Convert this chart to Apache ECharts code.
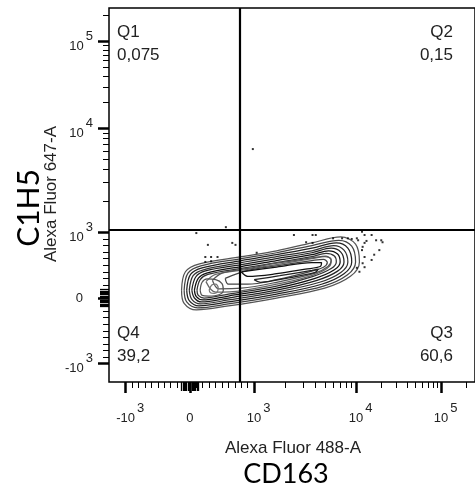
<!DOCTYPE html>
<html><head><meta charset="utf-8">
<script src="https://cdn.jsdelivr.net/npm/echarts@6/dist/echarts.min.js"></script>
<style>html,body{margin:0;padding:0;background:#fff}#c{width:475px;height:490px}</style>
</head><body><div id="c"></div>
<script>
// ---- gates & axis ticks (raw fluorescence) ----
const gateX = 770;
const gateY = 1060;
const quadNames = ['Q1', 'Q2', 'Q3', 'Q4'];
const quadPct = ['0,075', '0,15', '60,6', '39,2'];
const majorTicks = [-1000, 0, 1000, 10000, 100000];
const majorBase = ['-10', '0', '10', '10', '10'];
const majorExp = ['3', '', '3', '4', '5'];
const linearMinor = [-900, -800, -700, -600, -500, -400, -300, -200, -100, 100, 200, 300, 400, 500, 600, 700, 800, 900];
const zeroMinor = [-130, -110, -90, -70, -50, -30, -10, 10, 30, 50, 70, 90, 110, 130];
const logMinor = [2000, 3000, 4000, 5000, 6000, 7000, 8000, 9000, 20000, 30000, 40000, 50000, 60000, 70000, 80000, 90000, 200000];

// ---- contour rings (display scale units) ----
const ringO0 = [[-0.13,0.12],[-0.07,0.40],[0.15,0.52],[0.80,0.63],[1.35,0.72],[1.90,0.84],[2.35,0.93],[2.58,0.82],[2.64,0.55],[2.50,0.33],[2.10,0.15],[1.35,0.00],[0.60,-0.12],[0.10,-0.18],[-0.09,-0.08],[-0.13,0.12]];
const ringO1 = [[-0.09,0.12],[-0.03,0.38],[0.17,0.49],[0.80,0.60],[1.35,0.69],[1.90,0.80],[2.32,0.88],[2.52,0.79],[2.58,0.55],[2.45,0.35],[2.08,0.18],[1.35,0.03],[0.60,-0.09],[0.12,-0.15],[-0.05,-0.06],[-0.09,0.12]];
const ringO2 = [[-0.05,0.12],[0.01,0.36],[0.19,0.46],[0.80,0.57],[1.35,0.66],[1.90,0.76],[2.28,0.84],[2.46,0.76],[2.52,0.55],[2.40,0.37],[2.05,0.21],[1.35,0.06],[0.60,-0.06],[0.14,-0.12],[-0.01,-0.04],[-0.05,0.12]];
const ringO3 = [[-0.01,0.12],[0.05,0.34],[0.21,0.43],[0.80,0.54],[1.35,0.63],[1.90,0.72],[2.24,0.80],[2.40,0.73],[2.46,0.55],[2.35,0.39],[2.02,0.24],[1.35,0.09],[0.60,-0.03],[0.16,-0.09],[0.03,-0.02],[-0.01,0.12]];
const ringO4 = [[0.03,0.12],[0.09,0.32],[0.23,0.41],[0.80,0.51],[1.35,0.60],[1.90,0.69],[2.20,0.76],[2.35,0.70],[2.40,0.55],[2.30,0.41],[1.98,0.27],[1.35,0.12],[0.60,0.00],[0.18,-0.06],[0.07,0.00],[0.03,0.12]];
const ringO5 = [[0.07,0.12],[0.13,0.30],[0.26,0.38],[0.80,0.48],[1.35,0.57],[1.90,0.66],[2.16,0.72],[2.30,0.67],[2.34,0.55],[2.25,0.43],[1.95,0.30],[1.35,0.15],[0.60,0.03],[0.20,-0.03],[0.10,0.02],[0.07,0.12]];
const ringO6 = [[0.11,0.12],[0.16,0.28],[0.28,0.36],[0.80,0.45],[1.35,0.54],[1.90,0.63],[2.12,0.68],[2.25,0.64],[2.28,0.55],[2.20,0.45],[1.92,0.33],[1.35,0.18],[0.60,0.06],[0.22,0.00],[0.13,0.04],[0.11,0.12]];
const ringI0 = [[0.25,0.25],[0.40,0.36],[0.85,0.43],[1.35,0.51],[1.90,0.60],[2.10,0.63],[2.20,0.59],[2.18,0.49],[1.92,0.35],[1.35,0.21],[0.80,0.11],[0.40,0.09],[0.25,0.25]];
const ringI1 = [[0.35,0.27],[0.50,0.38],[0.90,0.45],[1.35,0.53],[1.90,0.61],[2.12,0.64],[2.20,0.57],[2.15,0.48],[1.95,0.38],[1.35,0.24],[0.80,0.15],[0.45,0.14],[0.35,0.27]];
const ringI2 = [[0.55,0.30],[0.90,0.42],[1.35,0.49],[1.90,0.57],[2.08,0.59],[2.14,0.54],[2.08,0.47],[1.90,0.41],[1.35,0.28],[0.90,0.21],[0.60,0.21],[0.55,0.30]];
const ringI3 = [[0.80,0.40],[1.35,0.47],[1.90,0.54],[2.05,0.54],[2.03,0.48],[1.80,0.44],[1.35,0.37],[0.90,0.33],[0.80,0.40]];
const ringI4 = [[1.00,0.28],[1.40,0.34],[1.90,0.42],[2.00,0.44],[1.95,0.39],[1.50,0.30],[1.10,0.24],[1.00,0.28]];
const ringK1 = [[0.16,0.12],[0.19,0.24],[0.27,0.29],[0.40,0.28],[0.50,0.22],[0.52,0.12],[0.45,0.05],[0.29,0.03],[0.19,0.04],[0.16,0.12]];
const ringK2 = [[0.30,0.12],[0.34,0.20],[0.40,0.21],[0.44,0.16],[0.43,0.10],[0.38,0.07],[0.32,0.08],[0.30,0.12]];
const contourRings = [ringO0, ringO1, ringO2, ringO3, ringO4, ringO5, ringO6, ringI0, ringI1, ringI2, ringI3, ringI4, ringK1, ringK2];
const ringColors = ['#555', '#444', '#222', '#333', '#222', '#111', '#333', '#666', '#555', '#444', '#111', '#222', '#555', '#777'];

// ---- outlier events (display scale units) ----
const outliers = [[1.62,0.96],[1.91,0.96],[1.96,0.96],[1.81,0.85],[1.91,0.84],[2.23,0.91],[2.37,0.91],[2.46,0.91],[2.52,0.90],[2.60,0.91],[2.62,0.88],[2.68,1.01],[2.72,0.96],[2.75,0.87],[2.83,0.96],[2.90,0.88],[2.98,0.88],[3.00,0.85],[2.72,0.84],[2.69,0.78],[2.68,0.73],[2.72,0.625],[2.83,0.58],[2.87,0.66],[2.95,0.73],[2.69,0.53],[2.72,0.47],[2.60,0.46],[2.64,0.40],[0.56,1.08],[0.10,0.99],[0.71,0.81],[0.66,0.84],[0.28,0.81],[0.24,0.625],[0.33,0.625],[0.43,0.625],[0.24,0.55],[0.33,0.56],[1.04,0.69],[0.98,2.27]];

// logicle-like display transform
function biex(v) {
  const a = Math.abs(v), s = v < 0 ? -1 : 1;
  let d;
  if (a <= 1000) d = a / 1000;
  else if (a <= 10000) d = 1 + 1.588 * Math.log10(a / 1000);
  else d = 2.588 + 1.324 * Math.log10(a / 10000);
  return s * d;
}

const majorPos = majorTicks.map(biex);
const zeroPos = zeroMinor.map(biex);
const minorPos = linearMinor.concat(logMinor).map(biex);
const AX = { min: -1.26, max: 4.44 };
const AY = { min: -1.28, max: 4.42 };
const FONT = "'Liberation Sans', Arial, sans-serif";

function labelFor(val) {
  let i = majorPos.findIndex(m => Math.abs(m - val) < 1e-6);
  if (i < 0) return '';
  if (!majorExp[i]) return '{z|' + majorBase[i] + '}';
  return '{b|' + majorBase[i] + '}{s|' + majorExp[i] + '}';
}

function tickAxis(isX, values, len, width) {
  const lim = isX ? AX : AY;
  return {
    type: 'value', min: lim.min, max: lim.max, position: isX ? 'bottom' : 'left', offset: 0,
    axisLine: { show: false, onZero: false }, splitLine: { show: false },
    axisTick: { show: true, customValues: values, length: len, lineStyle: { width: width, color: '#000' } },
    axisLabel: { show: false }
  };
}

function makeAxes(isX) {
  const fs = 13;
  const rich = isX ? {
    b: { fontSize: fs, fontFamily: FONT, color: '#222', padding: [10, 0, 0, 9] },
    s: { fontSize: fs, fontFamily: FONT, color: '#222', padding: [0, 0, 10, 2] },
    z: { fontSize: fs, fontFamily: FONT, color: '#222', padding: [10, 0, 0, 0] }
  } : {
    b: { fontSize: fs, fontFamily: FONT, color: '#222', padding: [10, 0, 0, 0] },
    s: { fontSize: fs, fontFamily: FONT, color: '#222', padding: [0, 0, 10, 2] },
    z: { fontSize: fs, fontFamily: FONT, color: '#222', padding: [0, 10, 0, 0] }
  };
  const main = tickAxis(isX, majorPos, 11, 2.5);
  main.axisLabel = { show: true, customValues: majorPos, margin: isX ? 20 : 16, formatter: v => labelFor(v), rich: rich,
    hideOverlap: false, showMinLabel: true, showMaxLabel: true };
  return [main, tickAxis(isX, minorPos, 6, 1), tickAxis(isX, zeroPos, 9, 1.3)];
}

const series = contourRings.map((r, i) => ({
  type: 'line', data: r, smooth: 0.35, symbol: 'none', silent: true,
  xAxisIndex: 0, yAxisIndex: 0,
  lineStyle: { color: ringColors[i], width: 1.25 }, z: 2
}));
series.push({
  type: 'scatter', data: outliers, symbol: 'rect', symbolSize: 2, silent: true,
  itemStyle: { color: '#000' }, xAxisIndex: 0, yAxisIndex: 0, z: 3,
  markLine: {
    silent: true, symbol: 'none', label: { show: false }, animation: false,
    lineStyle: { color: '#000', width: 2.2, type: 'solid' },
    data: [{ xAxis: biex(gateX) }, { yAxis: biex(gateY) }]
  }
});

const qStyle = { fontSize: 17, fontFamily: FONT, fill: '#222' };
const chart = echarts.init(document.getElementById('c'), null, { renderer: 'canvas' });
chart.setOption({
  animation: false,
  backgroundColor: '#fff',
  grid: { left: 109, top: 8, right: -8, bottom: 108, show: true, borderColor: '#000', borderWidth: 1.5, backgroundColor: 'transparent' },
  xAxis: makeAxes(true),
  yAxis: makeAxes(false),
  series: series,
  graphic: [
    { type: 'text', left: 117, top: 24, style: Object.assign({ text: quadNames[0] }, qStyle) },
    { type: 'text', left: 117, top: 47, style: Object.assign({ text: quadPct[0] }, qStyle) },
    { type: 'text', right: 22, top: 24, style: Object.assign({ text: quadNames[1] }, qStyle) },
    { type: 'text', right: 22, top: 47, style: Object.assign({ text: quadPct[1] }, qStyle) },
    { type: 'text', right: 22, top: 325, style: Object.assign({ text: quadNames[2] }, qStyle) },
    { type: 'text', right: 22, top: 348, style: Object.assign({ text: quadPct[2] }, qStyle) },
    { type: 'text', left: 117, top: 325, style: Object.assign({ text: quadNames[3] }, qStyle) },
    { type: 'text', left: 117, top: 348, style: Object.assign({ text: quadPct[3] }, qStyle) },
    { type: 'text', x: 293, y: 448, style: { text: 'Alexa Fluor 488-A', fontSize: 17, fontFamily: FONT, fill: '#222', align: 'center', verticalAlign: 'middle' } },
    { type: 'text', x: 286, y: 474, style: { text: 'CD163', fontSize: 27, fontFamily: "Lato, 'Open Sans', sans-serif", fill: '#000', align: 'center', verticalAlign: 'middle' } },
    { type: 'text', x: 51, y: 194, rotation: Math.PI / 2, style: { text: 'Alexa Fluor 647-A', fontSize: 17, fontFamily: FONT, fill: '#222', align: 'center', verticalAlign: 'middle' } },
    { type: 'text', x: 29, y: 208, rotation: Math.PI / 2, style: { text: 'C1H5', fontSize: 30, fontFamily: "Lato, 'Open Sans', sans-serif", fill: '#000', align: 'center', verticalAlign: 'middle' } }
  ]
});
</script></body></html>
